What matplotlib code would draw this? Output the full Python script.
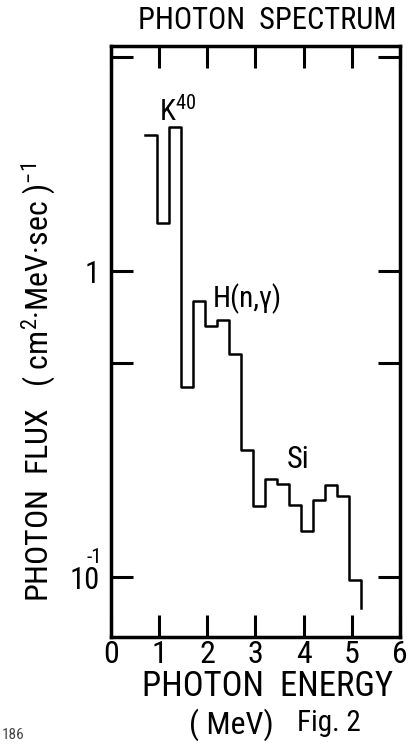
import numpy as np
import matplotlib.pyplot as plt

plt.rcParams['font.family'] = ['Roboto Condensed', 'DejaVu Sans']

# bin edges (MeV) and photon flux per bin
edges = [0.7, 0.95, 1.2, 1.45, 1.7, 1.95, 2.2, 2.45, 2.7, 2.95,
         3.2, 3.45, 3.7, 3.95, 4.2, 4.45, 4.7, 4.95, 5.2]
flux = [2.78, 1.44, 2.96, 0.418, 0.80, 0.66, 0.69, 0.535, 0.26, 0.171,
        0.209, 0.201, 0.172, 0.141, 0.179, 0.20, 0.184, 0.098]
tail = 0.079  # where the last drop ends

xticks = [0, 1, 2, 3, 4, 5, 6]
yticks = [0.1, 0.5, 1, 5]
ytick_labels = ['10', '', '1', '']  # the "-1" exponent of 10 is placed above the 0 below

fig = plt.figure(figsize=(4.15, 7.45), dpi=100)
ax = fig.add_axes([0.267, 0.145, 0.697, 0.793])

ax.step(edges, flux + [tail], where='post', color='black', lw=1.8)

ax.set_yscale('log')
ax.set_xlim(0, 6)
ax.set_ylim(0.0637, 5.43)
ax.set_xticks(xticks)
ax.set_xticklabels([str(t) for t in xticks], fontsize=23)
ax.set_yticks(yticks)
ax.set_yticklabels(ytick_labels, fontsize=22)
ax.minorticks_off()
ax.tick_params(direction='in', length=16, width=2.2, top=True, right=True)
ax.tick_params(axis='x', pad=2)
ax.tick_params(axis='y', pad=8)
for s in ax.spines.values():
    s.set_linewidth(2.5)

# exponent of the 10^-1 tick label, drawn over the "0" like in the original
ax.annotate('-1', xy=(0, yticks[0]), xycoords=('axes fraction', 'data'),
            xytext=(-12, 14), textcoords='offset points',
            fontsize=15, ha='center', va='center')

# annotations
ax.text(1.0, 3.1, r'K$\mathregular{^{40}}$', fontsize=21, ha='left', va='baseline')
ax.text(2.12, 0.76, 'H(n,γ)', fontsize=21, ha='left', va='baseline')
ax.text(3.65, 0.227, 'Si', fontsize=22, ha='left', va='baseline')

fig.text(0.645, 0.972, 'PHOTON  SPECTRUM', fontsize=22, ha='center', va='center')
fig.text(0.092, 0.487,
         r'PHOTON  FLUX   ( cm$\mathregular{^2}$·MeV·sec )$\mathregular{^{-1}}$',
         fontsize=23, rotation=90, ha='center', va='center')
fig.text(0.645, 0.078, 'PHOTON  ENERGY', fontsize=25, ha='center', va='center')
fig.text(0.558, 0.027, '( MeV)', fontsize=23, ha='center', va='center')
fig.text(0.793, 0.030, 'Fig. 2', fontsize=21, ha='center', va='center')
fig.text(0.005, 0.004, '186', fontsize=11, color='#444444', ha='left', va='bottom')

fig.savefig('out.png', dpi=100, facecolor='white')
